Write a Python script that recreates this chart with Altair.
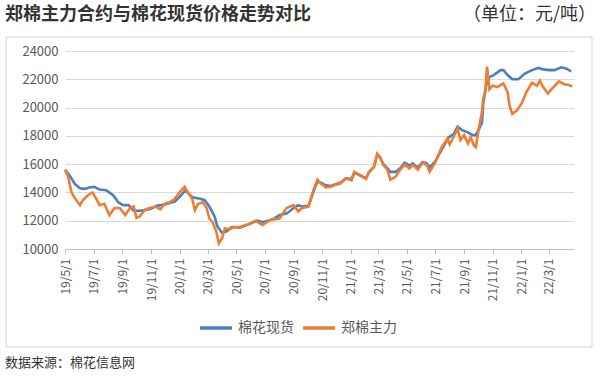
import altair as alt
import pandas as pd

series_names = ["棉花现货", "郑棉主力"]
series_colors = ["#4a7fc1", "#ed7d31"]

spot_dates = [
    "2019-05-01", "2019-05-11", "2019-05-22", "2019-06-02", "2019-06-12", "2019-06-22", "2019-07-03", "2019-07-14", "2019-07-28", "2019-08-12",
    "2019-08-23", "2019-09-02", "2019-09-14", "2019-09-25", "2019-10-08", "2019-10-18", "2019-11-01", "2019-11-13", "2019-12-01", "2019-12-11",
    "2019-12-22", "2020-01-02", "2020-01-12", "2020-01-18", "2020-01-29", "2020-02-14", "2020-02-24", "2020-03-05", "2020-03-16", "2020-03-22",
    "2020-04-01", "2020-04-11", "2020-04-22", "2020-05-09", "2020-06-01", "2020-06-15", "2020-06-27", "2020-07-19", "2020-08-02", "2020-08-17",
    "2020-09-01", "2020-09-11", "2020-09-19", "2020-10-03", "2020-10-14", "2020-10-22", "2020-10-29", "2020-11-09", "2020-11-20", "2020-12-01",
    "2020-12-11", "2020-12-22", "2021-01-03", "2021-01-09", "2021-01-20", "2021-02-03", "2021-02-09", "2021-02-20", "2021-02-27", "2021-03-05",
    "2021-03-12", "2021-03-21", "2021-03-27", "2021-04-07", "2021-04-17", "2021-04-27", "2021-05-07", "2021-05-14", "2021-05-25", "2021-06-04",
    "2021-06-13", "2021-06-19", "2021-07-01", "2021-07-12", "2021-07-18", "2021-07-30", "2021-08-09", "2021-08-18", "2021-08-28", "2021-09-09",
    "2021-09-19", "2021-09-26", "2021-10-09", "2021-10-12", "2021-10-18", "2021-10-25", "2021-11-03", "2021-11-18", "2021-11-24", "2021-12-03",
    "2021-12-13", "2021-12-26", "2022-01-09", "2022-01-24", "2022-02-07", "2022-02-17", "2022-03-03", "2022-03-13", "2022-03-28", "2022-04-08",
    "2022-04-18",
]
spot_values = [
    15600, 15200, 14600, 14300, 14250, 14350, 14400, 14200, 14150, 13800,
    13300, 13100, 13100, 12700, 12700, 12750, 12850, 13050, 13150, 13250,
    13350, 13700, 14100, 14000, 13650, 13550, 13450, 13000, 12300, 11600,
    11150, 11250, 11550, 11500, 11800, 12000, 11900, 12100, 12400, 12500,
    12900, 13100, 13000, 13050, 14100, 14750, 14700, 14500, 14450, 14600,
    14700, 15000, 14950, 15400, 15250, 15000, 15400, 15800, 16650, 16500,
    16000, 15700, 15450, 15450, 15700, 16100, 15900, 16050, 15750, 16150,
    16050, 15750, 16200, 16850, 17200, 17900, 18100, 18650, 18400, 18250,
    18050, 18050, 18900, 20350, 21550, 22150, 22300, 22650, 22650, 22300,
    22000, 22000, 22400, 22650, 22800, 22700, 22650, 22650, 22850, 22750,
    22550,
]

fut_dates = [
    "2019-05-01", "2019-05-07", "2019-05-15", "2019-05-22", "2019-06-02", "2019-06-08", "2019-06-19", "2019-06-29", "2019-07-07", "2019-07-14",
    "2019-07-24", "2019-08-04", "2019-08-15", "2019-08-26", "2019-09-07", "2019-09-17", "2019-09-25", "2019-10-01", "2019-10-08", "2019-10-18",
    "2019-10-29", "2019-11-11", "2019-11-21", "2019-12-01", "2019-12-11", "2019-12-22", "2020-01-02", "2020-01-12", "2020-01-18", "2020-01-28",
    "2020-02-03", "2020-02-10", "2020-02-20", "2020-02-28", "2020-03-05", "2020-03-12", "2020-03-20", "2020-03-25", "2020-04-01", "2020-04-07",
    "2020-04-18", "2020-04-26", "2020-05-09", "2020-06-01", "2020-06-10", "2020-06-27", "2020-07-13", "2020-08-02", "2020-08-17", "2020-09-01",
    "2020-09-11", "2020-09-19", "2020-10-03", "2020-10-14", "2020-10-22", "2020-10-29", "2020-11-09", "2020-11-20", "2020-12-01", "2020-12-11",
    "2020-12-22", "2021-01-03", "2021-01-09", "2021-01-20", "2021-02-03", "2021-02-09", "2021-02-20", "2021-02-27", "2021-03-05", "2021-03-12",
    "2021-03-21", "2021-03-27", "2021-04-07", "2021-04-17", "2021-04-27", "2021-05-07", "2021-05-14", "2021-05-25", "2021-06-04", "2021-06-13",
    "2021-06-19", "2021-07-01", "2021-07-15", "2021-07-27", "2021-08-01", "2021-08-09", "2021-08-18", "2021-08-24", "2021-09-01", "2021-09-09",
    "2021-09-15", "2021-09-22", "2021-09-26", "2021-09-30", "2021-10-09", "2021-10-12", "2021-10-16", "2021-10-20", "2021-10-25", "2021-11-01",
    "2021-11-11", "2021-11-21", "2021-11-24", "2021-12-03", "2021-12-07", "2021-12-13", "2021-12-23", "2022-01-03", "2022-01-12", "2022-01-24",
    "2022-02-04", "2022-02-10", "2022-02-17", "2022-02-27", "2022-03-07", "2022-03-17", "2022-03-23", "2022-04-03", "2022-04-13", "2022-04-20",
]
fut_values = [
    15600, 15200, 14000, 13600, 13100, 13450, 13800, 14000, 13550, 13100,
    13200, 12400, 12900, 12900, 12400, 12900, 13000, 12200, 12300, 12750,
    12900, 13000, 12800, 13200, 13300, 13550, 14050, 14400, 14050, 13550,
    12750, 13200, 13300, 12900, 12150, 11900, 11200, 10400, 10750, 11450,
    11400, 11550, 11550, 11800, 12000, 11700, 12050, 12150, 12900, 13100,
    12650, 12900, 13000, 14200, 14900, 14650, 14350, 14400, 14550, 14650,
    15000, 14850, 15450, 15200, 14950, 15450, 15800, 16750, 16500, 15950,
    15600, 14900, 15100, 15600, 15950, 15700, 15950, 15600, 16100, 15950,
    15450, 16100, 17200, 17800, 17400, 17900, 18500, 17700, 18050, 17450,
    17900, 17300, 17200, 18050, 19700, 20650, 21100, 22900, 21300, 21550,
    21450, 21650, 21700, 21100, 20150, 19550, 19800, 20350, 21100, 21750,
    21550, 21900, 21450, 21000, 21300, 21650, 21850, 21650, 21600, 21500,
]

x_ticks = [
    "2019-05-01", "2019-07-01", "2019-09-01", "2019-11-01", "2020-01-01", "2020-03-01",
    "2020-05-01", "2020-07-01", "2020-09-01", "2020-11-01", "2021-01-01", "2021-03-01",
    "2021-05-01", "2021-07-01", "2021-09-01", "2021-11-01", "2022-01-01", "2022-03-01",
]
x_domain = ["2019-05-01", "2022-04-24"]
y_ticks = [10000, 12000, 14000, 16000, 18000, 20000, 22000, 24000]

title_text = "郑棉主力合约与棉花现货价格走势对比"
unit_text = "（单位：元/吨）"
source_text = "数据来源：棉花信息网"

FONT = "Noto Sans CJK SC"


def dt(s):
    y, m, d = (int(p) for p in s.split("-"))
    return alt.DateTime(year=y, month=m, date=d, utc=True)


df = pd.concat([
    pd.DataFrame({"date": spot_dates, "value": spot_values, "series": series_names[0]}),
    pd.DataFrame({"date": fut_dates, "value": fut_values, "series": series_names[1]}),
])

x_enc = alt.X(
    "date:T",
    scale=alt.Scale(type="utc", domain=[dt(s) for s in x_domain]),
    axis=alt.Axis(
        values=[dt(s) for s in x_ticks],
        labelExpr="utcFormat(datum.value, '%y/%-m/%-d')",
        labelAngle=270, labelFontSize=12, labelColor="#595959", labelFont=FONT,
        labelPadding=4, tickSize=5, tickColor="#bfbfbf", domainColor="#bfbfbf",
        grid=False, title=None, labelOverlap=False,
    ),
)
y_enc = alt.Y(
    "value:Q",
    scale=alt.Scale(domain=[10000, 24000], nice=False),
    axis=alt.Axis(
        values=y_ticks, format="d", labelFontSize=13, labelColor="#595959", labelFont=FONT,
        labelPadding=7, ticks=False, domain=False, grid=True, gridColor="#d9d9d9",
        title=None,
    ),
)
color_enc = alt.Color(
    "series:N",
    scale=alt.Scale(domain=series_names, range=series_colors),
    legend=alt.Legend(
        title=None, orient="none", legendX=133, legendY=259, direction="horizontal",
        symbolType="stroke", symbolSize=1024, symbolStrokeWidth=3.5,
        labelFontSize=14, labelColor="#595959", labelFont=FONT, labelOffset=4,
        columnPadding=2,
    ),
)

base = alt.Chart(df)
spot_line = base.transform_filter(alt.datum.series == series_names[0]).mark_line(
    strokeWidth=2.6
).encode(x=x_enc, y=y_enc, color=color_enc)
fut_line = base.transform_filter(alt.datum.series == series_names[1]).mark_line(
    strokeWidth=2.6
).encode(x=x_enc, y=y_enc, color=color_enc)

blank = alt.Data(values=[{}])
frame = alt.Chart(blank).mark_rect(fill="transparent", stroke="#d4d4d4", strokeWidth=1).encode(
    x=alt.value(-59), x2=alt.value(527), y=alt.value(-14), y2=alt.value(296)
)
title = alt.Chart(blank).mark_text(
    align="left", baseline="middle", font=FONT, fontSize=18, fontWeight="bold", color="#333333"
).encode(x=alt.value(-60), y=alt.value(-36), text=alt.value(title_text))
unit = alt.Chart(blank).mark_text(
    align="right", baseline="middle", font=FONT, fontSize=18, color="#333333"
).encode(x=alt.value(531), y=alt.value(-36), text=alt.value(unit_text))
source = alt.Chart(blank).mark_text(
    align="left", baseline="middle", font=FONT, fontSize=13, color="#333333"
).encode(x=alt.value(-60), y=alt.value(312), text=alt.value(source_text))

chart = alt.layer(frame, spot_line, fut_line, title, unit, source).properties(
    width=509,
    height=198,
    autosize=alt.AutoSizeParams(type="none"),
    padding={"left": 65, "top": 51, "right": 26, "bottom": 129},
    background="white",
).configure_view(stroke=None)

chart.save("out.html", embed_options={"renderer": "svg", "actions": False})
